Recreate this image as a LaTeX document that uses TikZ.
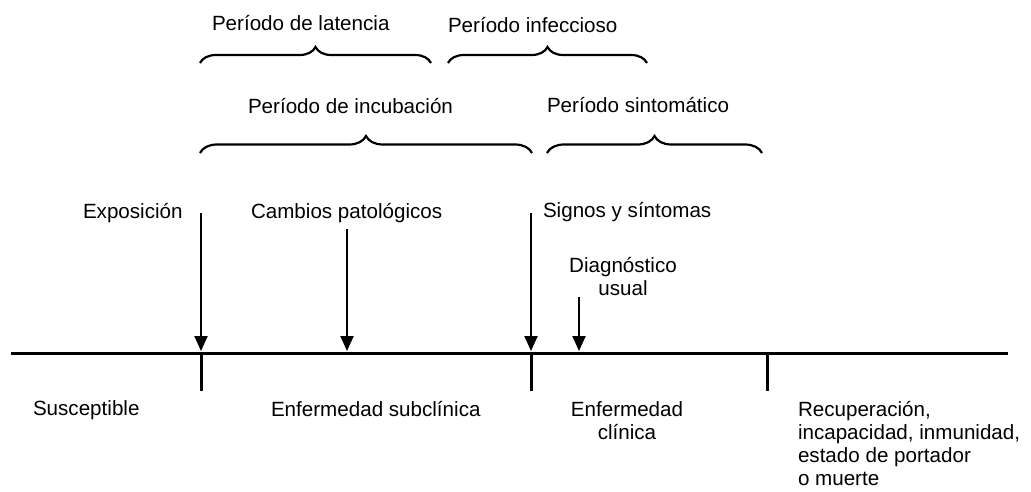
\documentclass[tikz,border=0pt]{standalone}
\usepackage{fontspec}
\setmainfont{Liberation Sans}
\usetikzlibrary{arrows.meta,decorations.pathreplacing}
\begin{document}
\begin{tikzpicture}[x=1pt,y=-1pt,
  every node/.style={inner sep=0pt,outer sep=0pt,font=\fontsize{20.6}{23.3}\selectfont},
  lbl/.style={anchor=base west},
  clbl/.style={anchor=base},
  brc/.style={line width=2.2pt,decorate,decoration={brace,amplitude=#1}},
  brc/.default=16pt,
  arr/.style={line width=2.2pt,-{Triangle[width=13pt,length=15pt]}},
  axis/.style={line width=3pt},
  tick/.style={line width=3pt}]
\useasboundingbox (0,0) rectangle (1031,491);
% top labels
\node[lbl] (lat) at (212,30) {Período de latencia};
\node[lbl] (inf) at (448,32) {Período infeccioso};
\node[lbl] (inc) at (248,113) {Período de incubación};
\node[lbl] (sin) at (547,112) {Período sintomático};
% braces
\coordinate (b1a) at (200,63); \coordinate (b1b) at (431,63);
\coordinate (b2a) at (448,63); \coordinate (b2b) at (647,63);
\coordinate (b3a) at (200,153); \coordinate (b3b) at (532,153);
\coordinate (b4a) at (547,153); \coordinate (b4b) at (762,153);
\draw[brc] (b1a) -- (b1b);
\draw[brc] (b2a) -- (b2b);
\draw[brc=17pt] (b3a) -- (b3b);
\draw[brc=17pt] (b4a) -- (b4b);
% event labels
\node[lbl] (expo) at (83,218) {Exposición};
\node[lbl] (camb) at (251,218) {Cambios patológicos};
\node[lbl] (sig) at (543,217) {Signos y síntomas};
\node[clbl] (diag) at (623,272) {\begin{tabular}[t]{@{}c@{}}Diagnóstico\\usual\end{tabular}};
% arrows
\coordinate (e1) at (201,213); \coordinate (f1) at (201,351);
\coordinate (e2) at (347,229); \coordinate (f2) at (347,351);
\coordinate (e3) at (531,213); \coordinate (f3) at (531,351);
\coordinate (e4) at (579,297); \coordinate (f4) at (579,351);
\draw[arr] (e1) -- (f1);
\draw[arr] (e2) -- (f2);
\draw[arr] (e3) -- (f3);
\draw[arr] (e4) -- (f4);
% timeline
\coordinate (l0) at (11,353); \coordinate (l1) at (1008,353);
\draw[axis] (l0) -- (l1);
\coordinate (t1a) at (201,353); \coordinate (t1b) at (201,391);
\coordinate (t2a) at (531,353); \coordinate (t2b) at (531,391);
\coordinate (t3a) at (767,353); \coordinate (t3b) at (767,391);
\draw[tick] (t1a) -- (t1b);
\draw[tick] (t2a) -- (t2b);
\draw[tick] (t3a) -- (t3b);
% stage labels
\node[lbl] (sus) at (33,415) {Susceptible};
\node[lbl] (sub) at (271,416) {Enfermedad subclínica};
\node[clbl] (cli) at (627,416) {\begin{tabular}[t]{@{}c@{}}Enfermedad\\clínica\end{tabular}};
\node[lbl] (rec) at (798,416) {\begin{tabular}[t]{@{}l@{}}Recuperación,\\incapacidad, inmunidad,\\estado de portador\\o muerte\end{tabular}};
\end{tikzpicture}
\end{document}
